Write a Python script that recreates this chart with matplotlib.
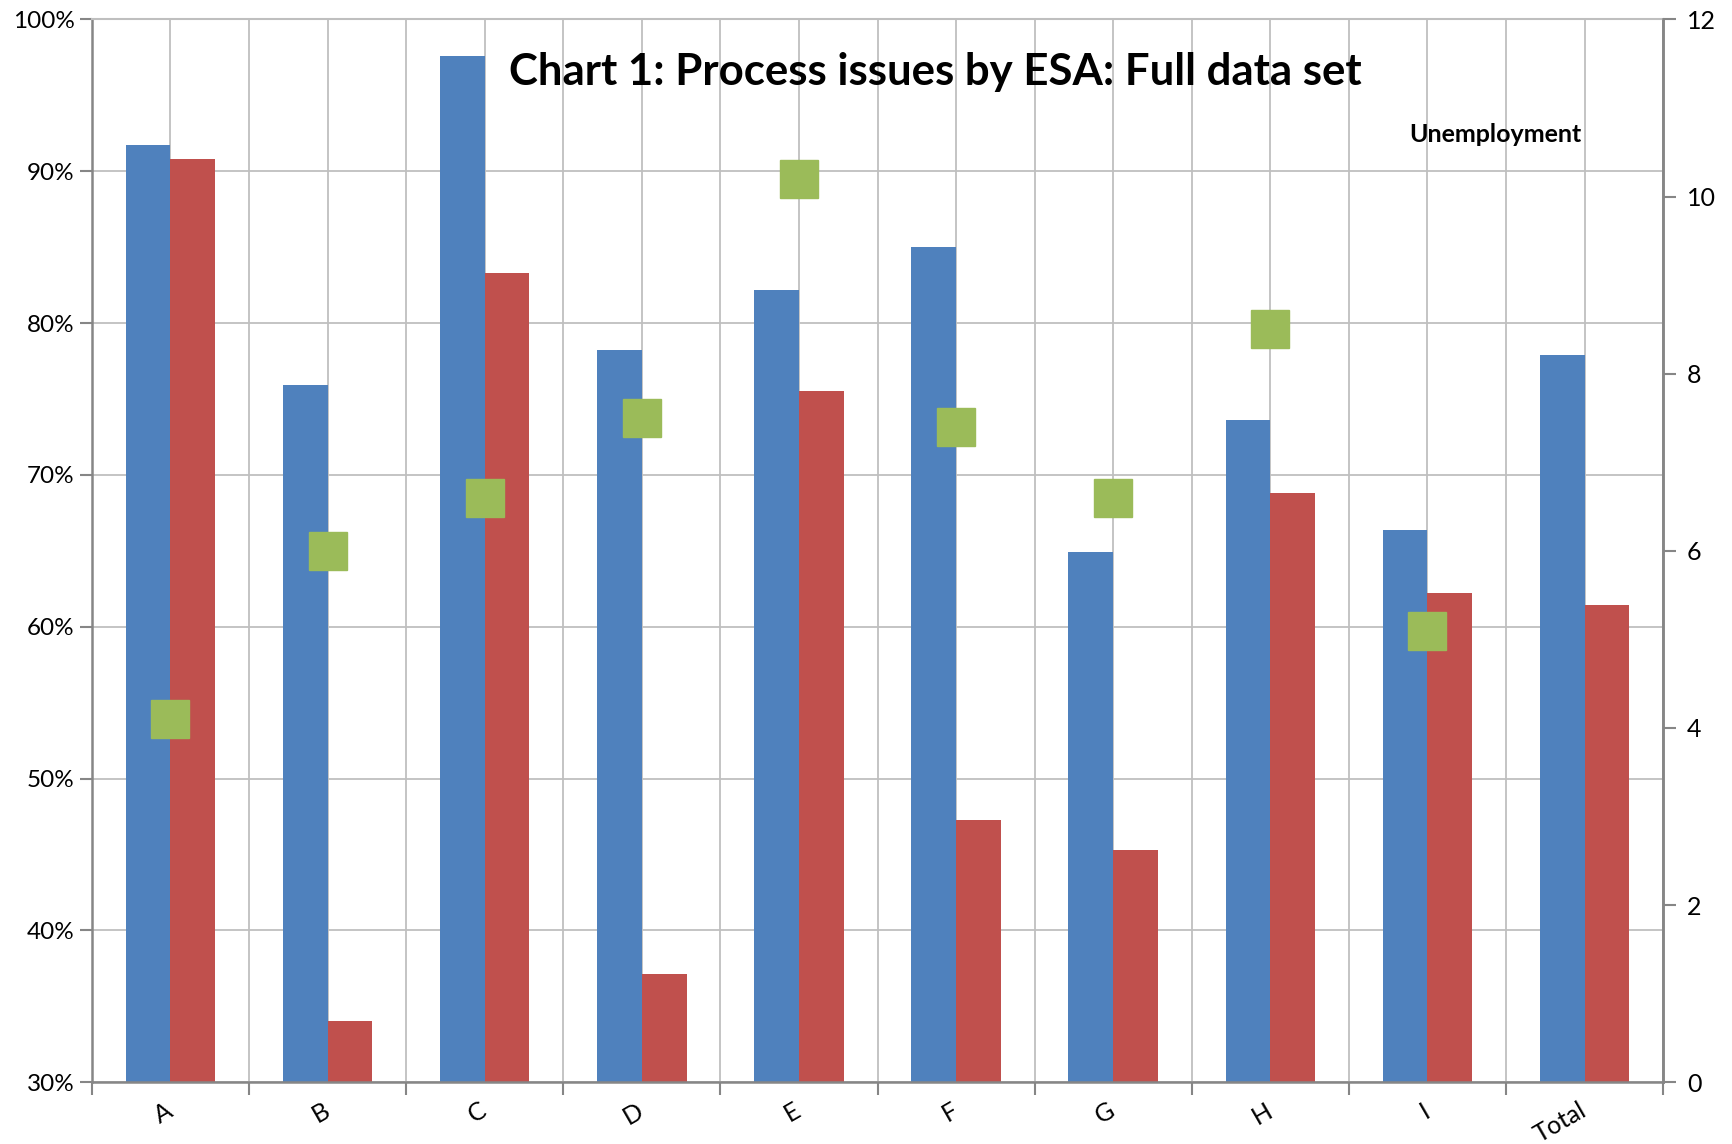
import numpy as np
import matplotlib.pyplot as plt
from matplotlib.ticker import PercentFormatter

# --- data ---
categories = ['A', 'B', 'C', 'D', 'E', 'F', 'G', 'H', 'I', 'Total']
series_blue = [91.7, 75.9, 97.6, 78.2, 82.2, 85.0, 64.9, 73.6, 66.4, 77.9]   # %
series_red = [90.8, 34.0, 83.3, 37.1, 75.5, 47.3, 45.3, 68.8, 62.2, 61.4]    # %
unemployment = [4.1, 6.0, 6.6, 7.5, 10.2, 7.4, 6.6, 8.5, 5.1]               # right axis, no value for Total

BLUE = '#4F81BD'
RED = '#C0504D'
GREEN = '#9BBB59'
GRID = '#BFBFBF'
SPINE = '#868686'

plt.rcParams['font.family'] = ['Lato', 'DejaVu Sans']

fig = plt.figure(figsize=(17.33, 11.44), dpi=100)
ax = fig.add_axes([0.053, 0.054, 0.9067, 0.929])

x = np.arange(len(categories))
w = 0.285
ax.bar(x - w / 2, series_blue, width=w, color=BLUE, zorder=2)
ax.bar(x + w / 2, series_red, width=w, color=RED, zorder=2)

ax.set_xlim(-0.5, len(categories) - 0.5)
ax.set_ylim(30, 100)
ax.set_yticks(np.arange(30, 101, 10))
ax.yaxis.set_major_formatter(PercentFormatter(decimals=0))
ax.set_axisbelow(True)

# category boundaries: ticks + grid; category centres: labels + grid
ax.set_xticks(np.arange(-0.5, len(categories)), labels=[])
ax.set_xticks(x, minor=True)
ax.set_xticklabels(categories, minor=True, rotation=30, ha='right', va='center',
                   rotation_mode='anchor', fontsize=18)
ax.tick_params(axis='x', which='major', direction='out', length=9, color=SPINE, width=1.5)
ax.tick_params(axis='x', which='minor', length=0, pad=19)
ax.tick_params(axis='y', direction='out', length=9, color=SPINE, width=1.5, labelsize=17.5)
ax.grid(axis='x', which='both', color=GRID, linewidth=1.3)
ax.grid(axis='y', which='major', color=GRID, linewidth=1.3)

ax.spines['top'].set_color(GRID)
ax.spines['top'].set_linewidth(1.5)
for s in ['left', 'bottom', 'right']:
    ax.spines[s].set_color(SPINE)
    ax.spines[s].set_linewidth(1.8)

# right axis with unemployment markers
ax2 = ax.twinx()
ax2.plot(x[:len(unemployment)], unemployment, linestyle='none', marker='s',
         markersize=28, color=GREEN, zorder=3)
ax2.set_ylim(0, 12)
ax2.set_yticks(np.arange(0, 13, 2))
ax2.tick_params(axis='y', direction='out', length=9, color=SPINE, width=1.5,
                labelsize=18, pad=8)
for s in ['top', 'left', 'bottom']:
    ax2.spines[s].set_visible(False)
ax2.spines['right'].set_color(SPINE)
ax2.spines['right'].set_linewidth(1.8)

fig.text(0.5395, 0.937, 'Chart 1: Process issues by ESA: Full data set',
         ha='center', va='center', fontsize=31.5, fontweight='bold')
fig.text(0.863, 0.882, 'Unemployment', ha='center', va='center',
         fontsize=18, fontweight='bold')

fig.savefig('out.png', dpi=100)
